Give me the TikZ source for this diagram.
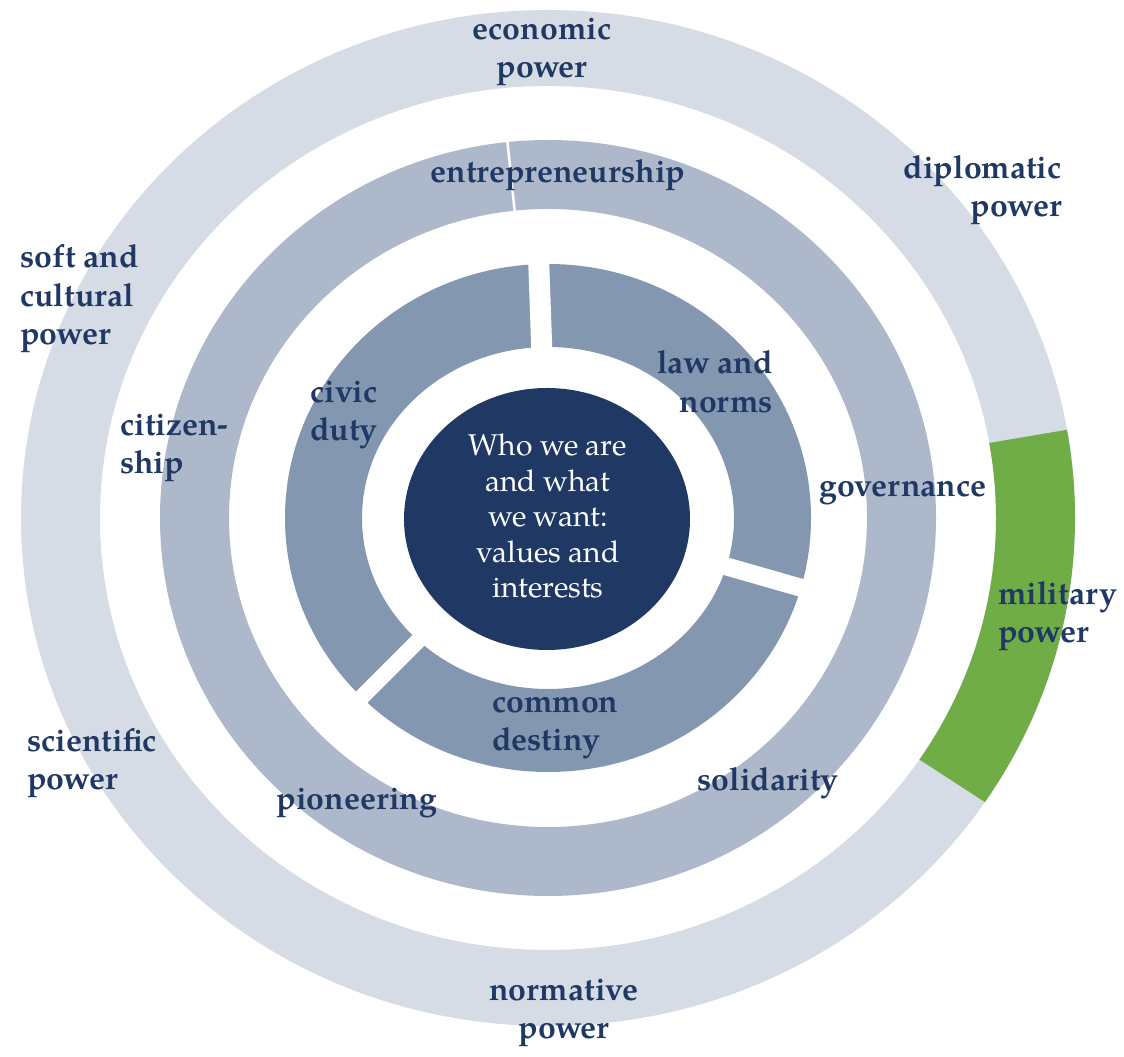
\documentclass[tikz,border=0pt]{standalone}
\usepackage{fontspec}
\setmainfont{TeX Gyre Pagella}
\usetikzlibrary{calc}
\definecolor{ringA}{HTML}{D6DCE5}
\definecolor{ringB}{HTML}{ADB9CA}
\definecolor{ringC}{HTML}{8497B0}
\definecolor{corecol}{HTML}{1F3864}
\definecolor{milcol}{HTML}{70AD47}
\definecolor{txtcol}{HTML}{1F3864}
\begin{document}
\begin{tikzpicture}[x=1pt,y=1pt,
  lbl/.style={text=txtcol, font=\fontsize{32}{38.5}\selectfont\bfseries, inner sep=0pt},
  lblL/.style={lbl, align=left},
  lblR/.style={lbl, align=right},
  lblC/.style={lbl, align=center},
  coretext/.style={text=white, font=\fontsize{30}{35.5}\selectfont, inner sep=0pt, align=center},
  gapline/.style={white, line width=#1},
]
\useasboundingbox (0,0) rectangle (1124,1057);
\coordinate (C) at (548,539);

% outer ring
\fill[ringA, even odd rule] (C) ellipse [x radius=527, y radius=508]
                            (C) ellipse [x radius=448, y radius=432];
% military segment
\fill[milcol] ($(C)+(10:527 and 508)$) arc[start angle=10, end angle=-34, x radius=527, y radius=508]
   -- ($(C)+(-34:448 and 432)$) arc[start angle=-34, end angle=10, x radius=448, y radius=432] -- cycle;

% middle ring
\fill[ringB, even odd rule] (C) ellipse [x radius=388, y radius=378]
                            (C) ellipse [x radius=319, y radius=309];
\draw[gapline=2.5] ($(C)+(96:312 and 302)$) -- ($(C)+(96:395 and 385)$);

% inner ring
\fill[ringC, even odd rule] (C) ellipse [x radius=263, y radius=254]
                            (C) ellipse [x radius=186, y radius=171];
\draw[gapline=21] ($(C)+(92:160 and 150)$) -- ($(C)+(92:280 and 270)$);
\draw[gapline=18] ($(C)+(-16:160 and 150)$) -- ($(C)+(-16:280 and 270)$);
\draw[gapline=16] ($(C)+(225:160 and 150)$) -- ($(C)+(225:280 and 270)$);

% core
\fill[corecol] (547,538) ellipse [x radius=143, y radius=131];
\node[coretext] (core) at (548,541) {Who we are\\and what\\we want:\\values and\\interests};

% labels
\node[lblC] (econ) at (542,1005) {economic\\power};
\node[lblR, anchor=east] (dipl) at (1062,867) {diplomatic\\power};
\node[lblL, anchor=west] (soft) at (20,758) {soft and\\cultural\\power};
\node[lblC] (entre) at (558,882) {entrepreneurship};
\node[lblL, anchor=west] (citi) at (120,609) {citizen-\\ship};
\node[lblL, anchor=west] (civic) at (310,642) {civic\\duty};
\node[lblR, anchor=east] (law) at (773,675) {law and\\norms};
\node[lblC] (gov) at (903,564) {governance};
\node[lblL, anchor=west] (mil) at (998,441) {military\\power};
\node[lblL, anchor=west] (sci) at (27,294) {scientific\\power};
\node[lblC] (pion) at (357,254) {pioneering};
\node[lblL, anchor=west] (common) at (492,329) {common\\destiny};
\node[lblC] (soli) at (768,274) {solidarity};
\node[lblC] (norm) at (564,44) {normative\\power};
\end{tikzpicture}
\end{document}
